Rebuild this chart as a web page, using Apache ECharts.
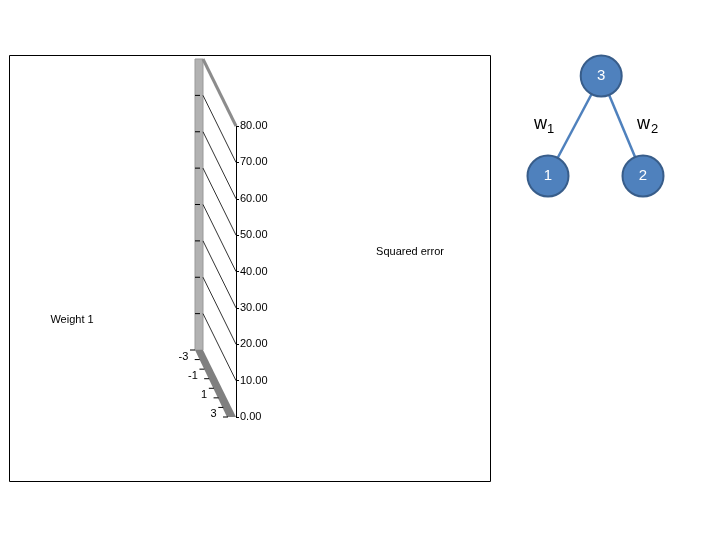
<!DOCTYPE html>
<html>
<head>
<meta charset="utf-8">
<script src="https://cdn.jsdelivr.net/npm/echarts@6/dist/echarts.min.js"></script>
<style>
  body { margin: 0; background: #fff; }
  #chart { width: 720px; height: 540px; }
</style>
</head>
<body>
<div id="chart"></div>
<script>
// squared error axis ticks, weight 1 categories
var errorTicks = [0, 10, 20, 30, 40, 50, 60, 70, 80];
var weightCats = [-3, -2, -1, 0, 1, 2, 3];

// little network: nodes and the weighted links to node 3
var nodeNames = ['1', '2', '3'];
var nodeX = [0, 1, 0.56];
var nodeY = [0, 0, 1];
var links = [['1', '3'], ['2', '3']];
var linkNames = ['1', '2'];

// fake 3d projection of the back wall (pixels)
var DX = -33, DY = -67, BAND = 8;
var font = 'Liberation Sans, Arial, sans-serif';

function backOf(p) {
	return [p[0] + DX, p[1] + DY];
}

function renderWall(params, api) {
	var f0 = api.coord([0, 0]);
	var f1 = api.coord([0, api.value(1)]);
	var b0 = backOf(f0), b1 = backOf(f1);
	return {
		type: 'group',
		children: [
			{ type: 'rect', shape: { x: b0[0] - BAND, y: b1[1], width: BAND, height: b0[1] - b1[1] },
				style: { fill: '#b2b2b2', stroke: '#999', lineWidth: 1 } },
			{ type: 'polygon', shape: { points: [[b0[0] - BAND, b0[1]], [b0[0], b0[1]], [f0[0], f0[1]], [f0[0] - BAND - 1, f0[1]]] },
				style: { fill: '#808080' } },
			{ type: 'line', shape: { x1: b1[0], y1: b1[1], x2: f1[0], y2: f1[1] },
				style: { stroke: '#8c8c8c', lineWidth: 3 } }
		]
	};
}

function renderGrid(params, api) {
	var v = api.value(1);
	var max = errorTicks[errorTicks.length - 1];
	if (v <= 0 || v >= max) return;
	var f = api.coord([0, v]);
	var b = backOf(f);
	return {
		type: 'group',
		children: [
			{ type: 'line', shape: { x1: b[0], y1: b[1], x2: f[0], y2: f[1] },
				style: { stroke: '#000', lineWidth: 0.8 } },
			{ type: 'line', shape: { x1: b[0] - BAND, y1: b[1], x2: b[0] - BAND + 5, y2: b[1] },
				style: { stroke: '#000', lineWidth: 1 } }
		]
	};
}

function renderFloor(params, api) {
	var i = params.dataIndex;
	var n = weightCats.length;
	var f0 = api.coord([0, 0]);
	var edge = function (t) {
		return [f0[0] - BAND + t * DX, f0[1] + t * DY];
	};
	var children = [];
	var ks = i == n - 1 ? [i, n] : [i];
	ks.forEach(function (k) {
		var p = edge(1 - k / n);
		children.push({ type: 'line', shape: { x1: p[0] - 5, y1: p[1], x2: p[0], y2: p[1] },
			style: { stroke: '#000', lineWidth: 1 } });
	});
	if (i % 2 == 0) {
		var c = edge(1 - (i + 0.5) / n);
		children.push({ type: 'text', style: { text: String(api.value(1)), x: c[0] - 9, y: c[1] + 2,
			align: 'right', verticalAlign: 'middle', fill: '#000', font: '11px ' + font } });
	}
	return { type: 'group', children: children };
}

var myChart = echarts.init(document.getElementById('chart'));

var option = {
	animation: false,
	backgroundColor: '#fff',
	grid: [
		{ left: 236, top: 126, width: 20, height: 291 },
		{ left: 548, top: 76, width: 95, height: 100 }
	],
	xAxis: [
		{ gridIndex: 0, type: 'value', min: 0, max: 1, show: false },
		{ gridIndex: 1, type: 'value', min: 0, max: 1, show: false }
	],
	yAxis: [
		{
			gridIndex: 0, type: 'value', min: 0, max: 80, interval: 10,
			splitLine: { show: false },
			axisLine: { show: true, lineStyle: { color: '#000', width: 1 } },
			axisTick: { show: true, inside: true, length: 3, lineStyle: { color: '#000' } },
			axisLabel: {
				inside: true, margin: 4, color: '#000', fontSize: 11, fontFamily: font,
				formatter: function (v) { return v.toFixed(2); }
			}
		},
		{ gridIndex: 1, type: 'value', min: 0, max: 1, show: false }
	],
	graphic: [
		{ type: 'rect', shape: { x: 9.5, y: 55.5, width: 481, height: 426 },
			style: { fill: null, stroke: '#000', lineWidth: 1 }, z: 0 },
		{ type: 'text', style: { text: 'Squared error', x: 410, y: 252, align: 'center', verticalAlign: 'middle',
			fill: '#000', font: '11px ' + font } },
		{ type: 'text', style: { text: 'Weight 1', x: 72, y: 320, align: 'center', verticalAlign: 'middle',
			fill: '#000', font: '11px ' + font } },
		{ type: 'text', style: { text: 'w', x: 534, y: 124, verticalAlign: 'middle', fill: '#000', font: '18px ' + font } },
		{ type: 'text', style: { text: linkNames[0], x: 547, y: 129, verticalAlign: 'middle', fill: '#000', font: '13px ' + font } },
		{ type: 'text', style: { text: 'w', x: 637, y: 124, verticalAlign: 'middle', fill: '#000', font: '18px ' + font } },
		{ type: 'text', style: { text: linkNames[1], x: 651, y: 129, verticalAlign: 'middle', fill: '#000', font: '13px ' + font } }
	],
	series: [
		{
			type: 'custom', xAxisIndex: 0, yAxisIndex: 0, silent: true, z: 2,
			renderItem: renderWall,
			data: [[0, errorTicks[errorTicks.length - 1]]]
		},
		{
			type: 'custom', xAxisIndex: 0, yAxisIndex: 0, silent: true, z: 3,
			renderItem: renderGrid,
			data: errorTicks.map(function (v) { return [0, v]; })
		},
		{
			type: 'custom', xAxisIndex: 0, yAxisIndex: 0, silent: true, z: 3,
			renderItem: renderFloor,
			data: weightCats.map(function (w) { return [0, w]; })
		},
		{
			type: 'graph', coordinateSystem: 'cartesian2d', xAxisIndex: 1, yAxisIndex: 1,
			symbolSize: 41,
			itemStyle: { color: '#4f81bd', borderColor: '#385d8a', borderWidth: 2 },
			label: { show: true, position: 'inside', color: '#fff', fontSize: 15, fontFamily: font },
			lineStyle: { color: '#4f81bd', width: 2.5, opacity: 1 },
			data: nodeNames.map(function (n, i) { return { name: n, value: [nodeX[i], nodeY[i]] }; }),
			links: links.map(function (l) { return { source: l[0], target: l[1] }; })
		}
	]
};

myChart.setOption(option);
</script>
</body>
</html>
